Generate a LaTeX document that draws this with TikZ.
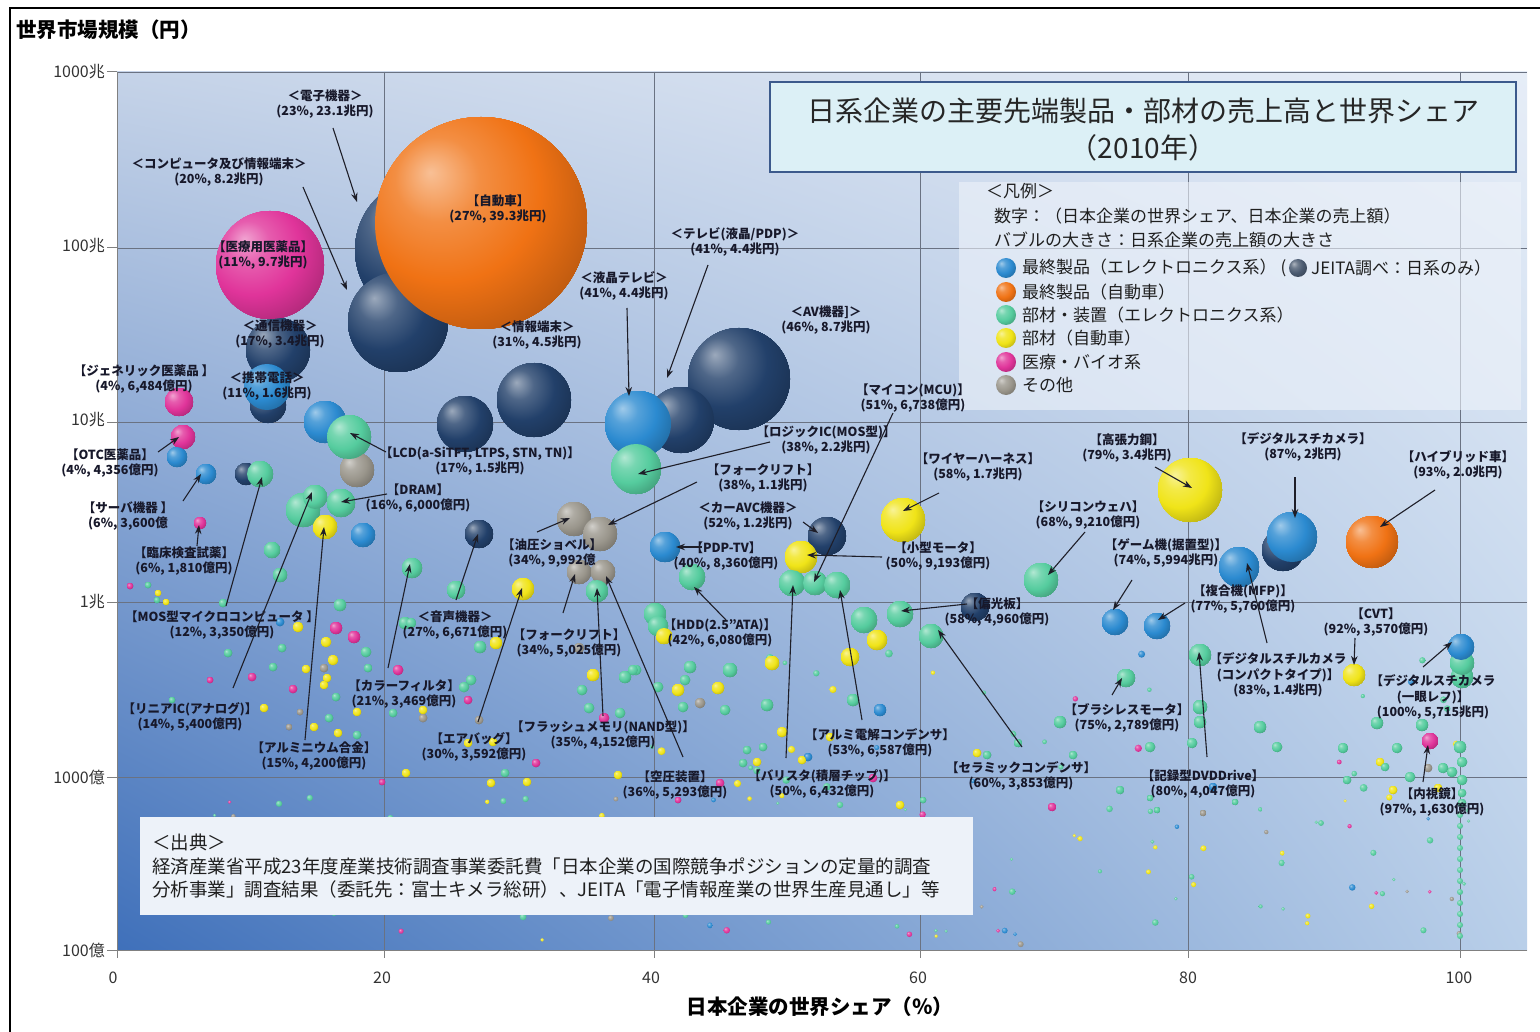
\documentclass[tikz,border=0pt]{standalone}
\usepackage{fontspec}
\setmainfont{Noto Sans CJK JP}
\usetikzlibrary{arrows.meta,shadings}
\definecolor{cnavy}{HTML}{22406A}
\definecolor{cblue}{HTML}{2B8AD0}
\definecolor{corange}{HTML}{F07214}
\definecolor{cgreen}{HTML}{55CC9E}
\definecolor{cyellow}{HTML}{F0E418}
\definecolor{cpink}{HTML}{E0349A}
\definecolor{cgray}{HTML}{9A968C}
\definecolor{cjeita}{HTML}{4A5A70}
\definecolor{bgUL}{HTML}{C5D3E8}
\definecolor{bgUR}{HTML}{E6EDF7}
\definecolor{bgLL}{HTML}{3F70BA}
\definecolor{bgLR}{HTML}{B9CFE9}
\definecolor{gridc}{HTML}{6A7282}
\definecolor{labtext}{HTML}{17182A}
\definecolor{arrowc}{HTML}{1E1E28}
\definecolor{titlefill}{HTML}{DCF0F6}
\definecolor{titleborder}{HTML}{3C5A8C}
\definecolor{boxfill}{HTML}{EEF3FA}
\makeatletter
\pgfdeclareradialshading[tikz@ball]{softball}{\pgfqpoint{-12bp}{12bp}}{%
 color(0bp)=(tikz@ball!45!white);
 color(10bp)=(tikz@ball!80!white);
 color(22bp)=(tikz@ball);
 color(34bp)=(tikz@ball!80!black);
 color(50bp)=(tikz@ball!55!black);
 color(70bp)=(tikz@ball!45!black)}
\makeatother
\newcommand\bub[4]{\shade[sb=#4] (#1,-#2) circle[radius=#3];}
\newcommand\arrw[5]{\coordinate (s#1) at (#2,-#3); \coordinate (t#1) at (#4,-#5); \draw[arr] (s#1) -- (t#1);}
\tikzset{
 sb/.style={ball color=#1, shading=softball},
 lab/.style={font=\fontsize{12.5}{15.5}\selectfont\bfseries, text=labtext, align=center, inner sep=0pt},
 arr/.style={-{Stealth[length=9pt,width=6.5pt]}, line width=1.1pt, draw=arrowc},
 gridline/.style={draw=gridc, line width=0.9pt},
 ticklab/.style={font=\fontsize{16}{18}\selectfont, text=black!80, inner sep=0pt},
 legtxt/.style={font=\fontsize{17}{20}\selectfont, text=black!88, inner sep=0pt, anchor=west},
 srctxt/.style={font=\fontsize{18.5}{21}\selectfont, text=black!88, inner sep=0pt, anchor=west},
}
\begin{document}
\begin{tikzpicture}[x=1pt,y=1pt]
\useasboundingbox (0,0) rectangle (1540,-1032);
\fill[white] (0,0) rectangle (1540,-1032);
% plot background
\shade[upper left=bgUL, upper right=bgUR, lower left=bgLL, lower right=bgLR] (117,-72) rectangle (1527,-950);
% grid
\foreach \yy in {72,248,422,602,777} \draw[gridline] (117,-\yy) -- (1527,-\yy);
\foreach \xx in {384,654,920,1188,1460} \draw[gridline] (\xx,-72) -- (\xx,-950);
\draw[draw=gray, line width=1pt] (117,-72) -- (117,-950) -- (1527,-950);
\foreach \yy in {72,248,422,602,777,950} \draw[draw=gray, line width=1pt] (107,-\yy) -- (117,-\yy);
\foreach \xx in {117,384,654,920,1188,1460} \draw[draw=gray, line width=1pt] (\xx,-950) -- (\xx,-958);
% frame
\draw[line width=1.3pt] (10,-1034) -- (10,-8) -- (1542,-8);
% axis labels
\node[font=\fontsize{20.5}{24}\selectfont\bfseries, anchor=west, inner sep=0pt] (ytitle) at (16,-30) {世界市場規模（円）};
\node[font=\fontsize{20.5}{24}\selectfont\bfseries, inner sep=0pt] (xtitle) at (820,-1007) {日本企業の世界シェア（％）};
\node[ticklab, anchor=east] (y1) at (105,-72) {1000兆};
\node[ticklab, anchor=east] (y2) at (105,-246) {100兆};
\node[ticklab, anchor=east] (y3) at (105,-420) {10兆};
\node[ticklab, anchor=east] (y4) at (105,-602) {1兆};
\node[ticklab, anchor=east] (y5) at (105,-777) {1000億};
\node[ticklab, anchor=east] (y6) at (105,-950) {100億};
\node[ticklab] (x0) at (113,-978) {0};
\node[ticklab] (x20) at (382,-978) {20};
\node[ticklab] (x40) at (651,-978) {40};
\node[ticklab] (x60) at (918,-978) {60};
\node[ticklab] (x80) at (1188,-978) {80};
\node[ticklab] (x100) at (1459,-978) {100};
% random tiny dots
\pgfmathsetseed{4242}
\foreach \i in {1,...,130}{%
  \pgfmathsetmacro\xx{150+1320*rnd}%
  \pgfmathsetmacro\yy{795+150*rnd}%
  \pgfmathsetmacro\rr{1.6+1.8*rnd}%
  \pgfmathtruncatemacro\cc{10*rnd}%
  \ifcase\cc\def\col{cgreen}\or\def\col{cgreen}\or\def\col{cgreen}\or\def\col{cgreen}\or\def\col{cgreen}\or\def\col{cyellow}\or\def\col{cyellow}\or\def\col{cpink}\or\def\col{cgray}\or\def\col{cblue}\else\def\col{cgreen}\fi
  \shade[sb=\col] (\xx,-\yy) circle[radius=\rr];
}
\foreach \i in {1,...,35}{%
  \pgfmathsetmacro\xx{640+820*rnd}%
  \pgfmathsetmacro\yy{650+140*rnd}%
  \pgfmathsetmacro\rr{2+2*rnd}%
  \pgfmathtruncatemacro\cc{10*rnd}%
  \ifcase\cc\def\col{cgreen}\or\def\col{cgreen}\or\def\col{cgreen}\or\def\col{cgreen}\or\def\col{cgreen}\or\def\col{cyellow}\or\def\col{cyellow}\or\def\col{cpink}\or\def\col{cgreen}\or\def\col{cblue}\else\def\col{cgreen}\fi
  \shade[sb=\col] (\xx,-\yy) circle[radius=\rr];
}
\foreach \yy in {815,826,...,945} \bub{1460}{\yy}{3}{cgreen}
% small dots (hand placed)
\bub{130}{586}{3}{cpink}\bub{148}{585}{3}{cgreen}\bub{158}{593}{3}{cyellow}\bub{166}{602}{3}{cyellow}\bub{157}{600}{3}{cgreen}
\bub{223}{603}{4}{cgreen}\bub{340}{605}{6}{cgreen}\bub{405}{623}{6}{cgreen}\bub{298}{627}{5}{cyellow}\bub{336}{628}{6}{cpink}
\bub{354}{637}{6}{cpink}\bub{326}{642}{5}{cyellow}\bub{366}{652}{5}{cgreen}\bub{333}{660}{5}{cyellow}\bub{282}{648}{4}{cgreen}
\bub{324}{668}{4}{cgray}\bub{306}{669}{4}{cyellow}\bub{368}{668}{4}{cgreen}\bub{327}{678}{4}{cyellow}\bub{324}{685}{4}{cyellow}
\bub{293}{689}{4}{cpink}\bub{252}{677}{4}{cpink}\bub{398}{670}{5}{cpink}\bub{273}{667}{4}{cgreen}\bub{264}{708}{4}{cyellow}
\bub{336}{697}{4}{cgreen}\bub{228}{653}{4}{cgreen}\bub{357}{712}{4}{cyellow}\bub{393}{713}{4}{cgreen}\bub{468}{700}{4}{cpink}
\bub{411}{623}{5}{cgreen}\bub{480}{647}{6}{cgreen}\bub{496}{643}{6}{cyellow}\bub{471}{680}{5}{cgreen}\bub{464}{687}{5}{cgreen}
\bub{423}{710}{4}{cyellow}\bub{423}{718}{4}{cgray}\bub{479}{720}{4}{cgray}\bub{493}{742}{4}{cyellow}\bub{468}{743}{4}{cyellow}
\bub{536}{763}{4}{cpink}\bub{582}{690}{5}{cgreen}\bub{593}{675}{6}{cyellow}\bub{625}{677}{6}{cgreen}\bub{636}{670}{5}{cgreen}
\bub{589}{708}{5}{cgreen}\bub{604}{718}{5}{cpink}\bub{620}{713}{5}{cgreen}\bub{579}{648}{5}{cgray}\bub{618}{775}{4}{cyellow}
\bub{527}{782}{4}{cyellow}\bub{491}{783}{4}{cyellow}\bub{505}{773}{4}{cgreen}\bub{406}{773}{4}{cyellow}\bub{357}{735}{4}{cgreen}
\bub{289}{727}{3}{cgray}\bub{314}{727}{4}{cyellow}\bub{338}{733}{4}{cyellow}\bub{329}{718}{4}{cgreen}\bub{382}{782}{3}{cpink}
\bub{280}{622}{4}{cblue}\bub{300}{712}{3}{cgray}\bub{210}{680}{3}{cpink}\bub{172}{700}{3}{cgreen}
\bub{690}{667}{6}{cgreen}\bub{685}{680}{5}{cgreen}\bub{730}{670}{7}{cgreen}\bub{772}{663}{7}{cyellow}\bub{678}{690}{6}{cyellow}
\bub{718}{688}{6}{cyellow}\bub{633}{670}{5}{cgreen}\bub{658}{687}{5}{cgreen}\bub{700}{703}{5}{cgray}\bub{683}{707}{5}{cgreen}
\bub{725}{710}{5}{cgreen}\bub{767}{705}{6}{cgreen}\bub{853}{700}{6}{cgreen}\bub{880}{710}{6}{cblue}\bub{782}{732}{5}{cyellow}
\bub{747}{750}{4}{cgreen}\bub{763}{747}{4}{cgreen}\bub{757}{762}{4}{cyellow}\bub{743}{763}{4}{cgreen}\bub{808}{757}{4}{cblue}
\bub{802}{760}{4}{cyellow}\bub{830}{737}{4}{cyellow}\bub{1018}{743}{4}{cgreen}\bub{1060}{722}{6}{cgreen}\bub{977}{753}{4}{cyellow}
\bub{987}{755}{4}{cgreen}\bub{1073}{755}{4}{cgreen}\bub{873}{778}{4}{cpink}\bub{720}{783}{4}{cpink}\bub{678}{800}{3}{cpink}
\bub{900}{805}{4}{cyellow}\bub{923}{800}{3}{cgreen}\bub{1052}{807}{4}{cpink}
\bub{1200}{707}{7}{cgreen}\bub{1200}{722}{6}{cgreen}\bub{1192}{743}{5}{cgreen}\bub{1260}{727}{6}{cgreen}\bub{1277}{747}{5}{cgreen}
\bub{1150}{747}{5}{cgreen}\bub{1343}{748}{5}{cgreen}\bub{1377}{723}{6}{cgreen}\bub{1397}{748}{5}{cgreen}\bub{1422}{725}{6}{cgreen}
\bub{1460}{747}{6}{cgreen}\bub{1462}{762}{5}{cgreen}\bub{1443}{768}{5}{cgreen}\bub{1452}{772}{5}{cgreen}\bub{1462}{780}{5}{cgreen}
\bub{1428}{768}{4}{cgray}\bub{1380}{762}{4}{cyellow}\bub{1385}{767}{4}{cgreen}\bub{1410}{777}{5}{cgreen}\bub{1393}{790}{4}{cyellow}
\bub{1438}{788}{4}{cyellow}\bub{1347}{780}{4}{cgreen}\bub{1120}{790}{4}{cgreen}\bub{1213}{787}{4}{cblue}\bub{1203}{813}{3}{cgray}
\bub{1150}{798}{3}{cgreen}\bub{1157}{810}{3}{cgreen}\bub{1235}{802}{3}{cgreen}\bub{1462}{793}{4}{cgreen}\bub{1462}{803}{4}{cgreen}
% medium bubbles
\bub{179}{402}{14}{cpink}\bub{183}{437}{12}{cpink}\bub{177}{457}{10}{cblue}\bub{206}{474}{10}{cblue}
\bub{246}{474}{11}{cnavy}\bub{260}{474}{13}{cgreen}\bub{200}{523}{6}{cpink}
\bub{303}{510}{17}{cgreen}\bub{315}{497}{12}{cgreen}\bub{341}{503}{14}{cgreen}\bub{325}{527}{12}{cyellow}\bub{363}{535}{12}{cblue}
\bub{272}{550}{8}{cgreen}\bub{280}{575}{7}{cgreen}
\bub{479}{534}{14}{cnavy}\bub{412}{568}{10}{cgreen}\bub{456}{590}{9}{cgreen}\bub{523}{589}{11}{cyellow}
\bub{574}{519}{17}{cgray}\bub{600}{534}{17}{cgray}\bub{579}{572}{12}{cgray}\bub{603}{572}{12}{cgray}\bub{597}{591}{11}{cgreen}
\bub{665}{547}{15}{cblue}\bub{692}{577}{13}{cgreen}\bub{655}{614}{11}{cgreen}\bub{658}{626}{10}{cgreen}\bub{664}{636}{8}{cyellow}
\bub{827}{536}{19}{cnavy}\bub{801}{557}{16}{cyellow}\bub{792}{583}{13}{cgreen}\bub{815}{583}{12}{cgreen}\bub{837}{585}{13}{cgreen}
\bub{903}{520}{22}{cyellow}\bub{864}{620}{13}{cgreen}\bub{900}{614}{13}{cgreen}\bub{877}{640}{10}{cyellow}\bub{931}{636}{12}{cgreen}
\bub{850}{657}{9}{cyellow}\bub{975}{607}{14}{cnavy}
\bub{1190}{490}{32}{cyellow}\bub{1041}{580}{17}{cgreen}\bub{1115}{622}{13}{cblue}\bub{1157}{626}{13}{cblue}
\bub{1239}{567}{20}{cblue}\bub{1283}{550}{21}{cnavy}\bub{1292}{537}{25}{cblue}\bub{1372}{542}{26}{corange}
\bub{1200}{655}{11}{cgreen}\bub{1354}{675}{11}{cyellow}\bub{1462}{677}{11}{cgreen}\bub{1462}{663}{12}{cgreen}\bub{1461}{647}{13}{cblue}
\bub{1126}{678}{9}{cgreen}\bub{1430}{741}{8}{cpink}
\bub{325}{422}{21}{cblue}\bub{357}{470}{17}{cgray}\bub{349}{437}{22}{cgreen}
\bub{278}{350}{32}{cnavy}\bub{268}{405}{18}{cnavy}\bub{267}{387}{23}{cblue}
\bub{465}{424}{28}{cnavy}\bub{534}{400}{37}{cnavy}
\bub{739}{379}{51}{cnavy}\bub{681}{420}{33}{cnavy}\bub{638}{424}{33}{cblue}\bub{636}{469}{25}{cgreen}
% large bubbles
\bub{270}{265}{54}{cpink}
\bub{428}{250}{73}{cnavy}
\bub{398}{322}{50}{cnavy}
\bub{481}{223}{106}{corange}
% source box
\fill[boxfill, fill opacity=0.78] (140,-817) rectangle (973,-915);
\node[srctxt] (src0) at (152,-842) {＜出典＞};
\node[srctxt] (src1) at (152,-866) {経済産業省平成23年度産業技術調査事業委託費「日本企業の国際競争ポジションの定量的調査};
\node[srctxt] (src2) at (152,-889) {分析事業」調査結果（委託先：富士キメラ総研）、JEITA「電子情報産業の世界生産見通し」等};
% title box
\draw[draw=titleborder, line width=1.6pt, fill=titlefill] (770,-82) rectangle (1516,-172);
\node[font=\fontsize{28}{34}\selectfont, text=black!85, inner sep=0pt] (title1) at (1143,-111) {日系企業の主要先端製品・部材の売上高と世界シェア};
\node[font=\fontsize{28}{34}\selectfont, text=black!85, inner sep=0pt] (title2) at (1143,-148) {（2010年）};
% legend
\fill[boxfill, fill opacity=0.6] (959,-182) rectangle (1521,-410);
\node[legtxt] (lg0) at (986,-191) {＜凡例＞};
\node[legtxt] (lg1) at (994,-216) {数字：（日本企業の世界シェア、日本企業の売上額）};
\node[legtxt] (lg2) at (994,-240) {バブルの大きさ：日系企業の売上額の大きさ};
\bub{1006}{268}{10}{cblue}\bub{1006}{292}{10}{corange}\bub{1006}{315}{10}{cgreen}
\bub{1006}{338}{10}{cyellow}\bub{1006}{362}{10}{cpink}\bub{1006}{385}{10}{cgray}
\bub{1298}{268}{9}{cjeita}
\node[legtxt] (lg3) at (1022,-268) {最終製品（エレクトロニクス系） (};
\node[legtxt] (lg3b) at (1311,-268) {JEITA調べ：日系のみ）};
\node[legtxt] (lg4) at (1022,-292) {最終製品（自動車）};
\node[legtxt] (lg5) at (1022,-315) {部材・装置（エレクトロニクス系）};
\node[legtxt] (lg6) at (1022,-338) {部材（自動車）};
\node[legtxt] (lg7) at (1022,-362) {医療・バイオ系};
\node[legtxt] (lg8) at (1022,-385) {その他};
% labels
\node[lab] (n1) at (325,-104) {＜電子機器＞\\(23\%, 23.1兆円)};
\node[lab] (n2) at (219,-172) {＜コンピュータ及び情報端末＞\\(20\%, 8.2兆円)};
\node[lab] (n3) at (498,-209) {【自動車】\\(27\%, 39.3兆円)};
\node[lab] (n4) at (263,-255) {【医療用医薬品】\\(11\%, 9.7兆円)};
\node[lab] (n5) at (280,-334) {＜通信機器＞\\(17\%, 3.4兆円)};
\node[lab] (n6) at (267,-386) {＜携帯電話＞\\(11\%, 1.6兆円)};
\node[lab] (n7) at (537,-335) {＜情報端末＞\\(31\%, 4.5兆円)};
\node[lab] (n8) at (624,-286) {＜液晶テレビ＞\\(41\%, 4.4兆円)};
\node[lab] (n9) at (735,-242) {＜テレビ(液晶/PDP)＞\\(41\%, 4.4兆円)};
\node[lab] (n10) at (826,-320) {＜AV機器]＞\\(46\%, 8.7兆円)};
\node[lab] (n11) at (144,-379) {【ジェネリック医薬品 】\\(4\%, 6,484億円)};
\node[lab] (n12) at (110,-463) {【OTC医薬品】\\(4\%, 4,356億円)};
\node[lab] (n13) at (128,-516) {【サーバ機器 】\\(6\%, 3,600億};
\node[lab] (n14) at (184,-561) {【臨床検査試薬】\\(6\%, 1,810億円)};
\node[lab] (n15) at (480,-461) {【LCD(a-SiTFT, LTPS, STN, TN)】\\(17\%, 1.5兆円)};
\node[lab] (n16) at (418,-498) {【DRAM】\\(16\%, 6,000億円)};
\node[lab] (n17) at (222,-625) {【MOS型マイクロコンピュータ 】\\(12\%, 3,350億円)};
\node[lab] (n18) at (190,-717) {【リニアIC(アナログ)】\\(14\%, 5,400億円)};
\node[lab] (n19) at (314,-756) {【アルミニウム合金】\\(15\%, 4,200億円)};
\node[lab] (n20) at (404,-694) {【カラーフィルタ】\\(21\%, 3,469億円)};
\node[lab] (n21) at (455,-625) {＜音声機器＞\\(27\%, 6,671億円)};
\node[lab] (n22) at (569,-643) {【フォークリフト】\\(34\%, 5,025億円)};
\node[lab] (n23) at (474,-747) {【エアバッグ】\\(30\%, 3,592億円)};
\node[lab] (n24) at (552,-553) {【油圧ショベル】\\(34\%, 9,992億};
\node[lab] (n25) at (763,-478) {【フォークリフト】\\(38\%, 1.1兆円)};
\node[lab] (n26) at (826,-440) {【ロジックIC(MOS型)】\\(38\%, 2.2兆円)};
\node[lab] (n27) at (748,-516) {＜カーAVC機器＞\\(52\%, 1.2兆円)};
\node[lab] (n28) at (726,-556) {【PDP-TV】\\(40\%, 8,360億円)};
\node[lab] (n29) at (720,-633) {【HDD(2.5"ATA)】\\(42\%, 6,080億円)};
\node[lab] (n30) at (938,-556) {【小型モータ】\\(50\%, 9,193億円)};
\node[lab] (n31) at (913,-398) {【マイコン(MCU)】\\(51\%, 6,738億円)};
\node[lab] (n32) at (978,-467) {【ワイヤーハーネス】\\(58\%, 1.7兆円)};
\node[lab] (n33) at (997,-612) {【偏光板】\\(58\%, 4,960億円)};
\node[lab] (n34) at (880,-743) {【アルミ電解コンデンサ】\\(53\%, 6,587億円)};
\node[lab] (n35) at (822,-784) {【バリスタ(積層チップ)】\\(50\%, 6,432億円)};
\node[lab] (n36) at (675,-785) {【空圧装置】\\(36\%, 5,293億円)};
\node[lab] (n37) at (1021,-776) {【セラミックコンデンサ】\\(60\%, 3,853億円)};
\node[lab] (n38) at (603,-735) {【フラッシュメモリ(NAND型)】\\(35\%, 4,152億円)};
\node[lab] (n39) at (1127,-448) {【高張力鋼】\\(79\%, 3.4兆円)};
\node[lab] (n40) at (1303,-447) {【デジタルスチカメラ】\\(87\%, 2兆円)};
\node[lab] (n41) at (1458,-465) {【ハイブリッド車】\\(93\%, 2.0兆円)};
\node[lab] (n42) at (1088,-515) {【シリコンウェハ】\\(68\%, 9,210億円)};
\node[lab] (n43) at (1166,-553) {【ゲーム機(据置型)】\\(74\%, 5,994兆円)};
\node[lab] (n44) at (1243,-599) {【複合機(MFP)】\\(77\%, 5,760億円)};
\node[lab] (n45) at (1278,-675) {【デジタルスチルカメラ\\(コンパクトタイプ)】\\(83\%, 1.4兆円)};
\node[lab] (n46) at (1376,-622) {【CVT】\\(92\%, 3,570億円)};
\node[lab] (n47) at (1433,-697) {【デジタルスチカメラ\\(一眼レフ)】\\(100\%, 5,715兆円)};
\node[lab] (n48) at (1127,-718) {【ブラシレスモータ】\\(75\%, 2,789億円)};
\node[lab] (n49) at (1203,-784) {【記録型DVDDrive】\\(80\%, 4,047億円)};
\node[lab] (n50) at (1432,-802) {【内視鏡】\\(97\%, 1,630億円)};
% arrows
\arrw{1}{333}{128}{357}{202}
\arrw{2}{303}{187}{347}{290}
\arrw{3}{627}{308}{629}{396}
\arrw{4}{708}{265}{667}{378}
\arrw{5}{158}{452}{179}{437}
\arrw{6}{183}{501}{201}{474}
\arrw{7}{197}{546}{199}{525}
\arrw{8}{386}{452}{350}{433}
\arrw{9}{387}{494}{341}{502}
\arrw{10}{226}{606}{262}{477}
\arrw{11}{233}{688}{312}{492}
\arrw{12}{305}{740}{324}{527}
\arrw{13}{388}{668}{410}{564}
\arrw{14}{456}{600}{478}{534}
\arrw{15}{478}{722}{522}{588}
\arrw{16}{537}{532}{570}{518}
\arrw{17}{563}{613}{575}{574}
\arrw{18}{603}{716}{597}{588}
\arrw{19}{683}{757}{606}{576}
\arrw{20}{697}{482}{608}{525}
\arrw{21}{770}{442}{638}{474}
\arrw{22}{803}{522}{818}{533}
\arrw{23}{702}{547}{676}{547}
\arrw{24}{726}{620}{694}{587}
\arrw{25}{882}{557}{807}{555}
\arrw{26}{893}{413}{814}{582}
\arrw{27}{939}{493}{903}{511}
\arrw{28}{967}{604}{901}{611}
\arrw{29}{862}{720}{840}{590}
\arrw{30}{786}{758}{793}{585}
\arrw{31}{1022}{747}{938}{630}
\arrw{32}{1155}{467}{1192}{488}
\arrw{33}{1295}{477}{1295}{518}
\arrw{34}{1435}{490}{1380}{527}
\arrw{35}{1085}{532}{1048}{575}
\arrw{36}{1132}{580}{1113}{610}
\arrw{37}{1185}{603}{1158}{620}
\arrw{38}{1267}{643}{1247}{563}
\arrw{39}{1207}{757}{1199}{652}
\arrw{40}{1355}{638}{1354}{665}
\arrw{41}{1423}{667}{1452}{642}
\arrw{42}{1112}{695}{1122}{678}
\arrw{43}{1423}{782}{1428}{745}
\end{tikzpicture}
\end{document}
